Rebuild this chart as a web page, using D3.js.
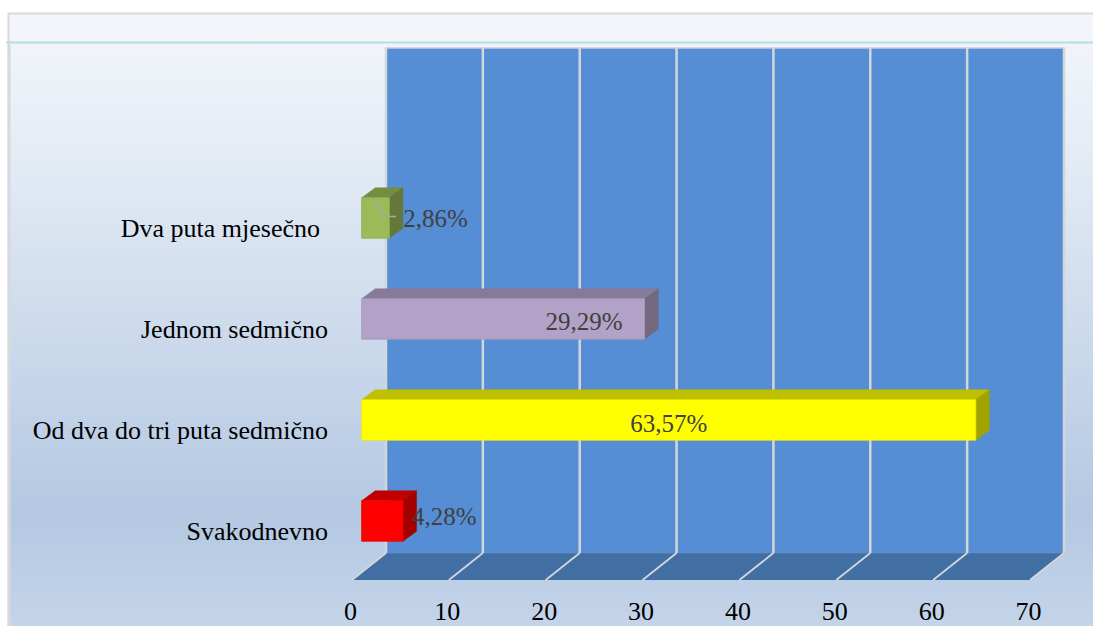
<!DOCTYPE html>
<html lang="hr">
<head>
<meta charset="utf-8">
<title>Učestalost</title>
<script src="https://d3js.org/d3.v7.min.js"></script>
<style>
  html, body { margin: 0; padding: 0; background: #fff; }
  svg { display: block; }
  svg text { font-family: "Liberation Serif", "Tinos", "Times New Roman", "DejaVu Serif", serif; font-size: 26px; }
  .cat { fill: #000; }
  .val { fill: #404040; font-size: 25px; }
  .tick { fill: #000; }
</style>
</head>
<body>
<script>
// data, bottom to top as in the chart
var categories = ["Svakodnevno", "Od dva do tri puta sedmično", "Jednom sedmično", "Dva puta mjesečno"];
var values = [4.28, 63.57, 29.29, 2.86];
var barColors = ["#ff0000", "#ffff00", "#b3a2c7", "#9bbb59"];
var tickValues = [0, 10, 20, 30, 40, 50, 60, 70];

var outerWidth = 1093,
  outerHeight = 626;

// the 3d box: back wall, floor front edge, bar plane
var wall = { left: 386, right: 1064, top: 48, bottom: 553 };
var floorFront = { left: 352, right: 1030, y: 580 };
var barDepth = { dx: 13.5, dy: -10 };

var comma = d3.formatLocale({ decimal: ",", thousands: ".", grouping: [3], currency: ["", ""] });
var fmt = comma.format(".2f");

var xBack = d3.scaleLinear().domain([0, 70]).range([wall.left, wall.right]);
var xFront = d3.scaleLinear().domain([0, 70]).range([floorFront.left, floorFront.right]);
var xBar = d3.scaleLinear().domain([0, 70]).range([361.7, 361.7 + 70 * 9.66]);

// front-face bands, bottom category first
var yBand = d3.scaleBand()
  .domain(categories)
  .range([571.5, 167.5])
  .paddingInner(0.6)
  .paddingOuter(0.3);

var svg = d3.select("body").append("svg")
  .attr("width", outerWidth)
  .attr("height", outerHeight);

var defs = svg.append("defs");
var bg = defs.append("linearGradient")
  .attr("id", "bg")
  .attr("x1", 0).attr("y1", 0).attr("x2", 0).attr("y2", 1);
bg.append("stop").attr("offset", "0").attr("stop-color", "#f4f7fb");
bg.append("stop").attr("offset", "0.2").attr("stop-color", "#e6edf6");
bg.append("stop").attr("offset", "0.8").attr("stop-color", "#b4c8e2");
bg.append("stop").attr("offset", "1").attr("stop-color", "#c6d6ea");

// chart background
svg.append("rect")
  .attr("x", 8.5).attr("y", 13.5)
  .attr("width", outerWidth).attr("height", outerHeight)
  .attr("fill", "url(#bg)")
  .attr("stroke", "#dadada")
  .attr("stroke-width", 2);

// header strip
svg.append("rect")
  .attr("x", 10).attr("y", 15)
  .attr("width", outerWidth).attr("height", 27)
  .attr("fill", "#f2f6fa");
svg.append("line")
  .attr("x1", 6).attr("x2", outerWidth)
  .attr("y1", 42.5).attr("y2", 42.5)
  .attr("stroke", "#b6dbe8")
  .attr("stroke-width", 2);
svg.append("line")
  .attr("x1", 9).attr("x2", 9)
  .attr("y1", 44).attr("y2", outerHeight)
  .attr("stroke", "#d6d9de")
  .attr("stroke-width", 3);

// back wall
svg.append("rect")
  .attr("x", wall.left).attr("y", wall.top)
  .attr("width", wall.right - wall.left)
  .attr("height", wall.bottom - wall.top)
  .attr("fill", "#558ed5")
  .attr("stroke", "#c9cdd3")
  .attr("stroke-width", 1.5);

// floor
svg.append("polygon")
  .attr("points", [
    [xBack(0), wall.bottom], [xBack(70), wall.bottom],
    [xFront(70), floorFront.y], [xFront(0), floorFront.y]
  ].join(" "))
  .attr("fill", "#416fa3");
svg.append("line")
  .attr("x1", xBack(0)).attr("x2", xBack(70))
  .attr("y1", wall.bottom).attr("y2", wall.bottom)
  .attr("stroke", "#4b7cb8")
  .attr("stroke-width", 1.5);

// gridlines on wall and floor
var grid = svg.append("g");
grid.selectAll("line.wall")
  .data(tickValues)
  .enter().append("line")
  .attr("class", "wall")
  .attr("x1", function(d) { return xBack(d); })
  .attr("x2", function(d) { return xBack(d); })
  .attr("y1", wall.top)
  .attr("y2", wall.bottom)
  .attr("stroke", "#d3d6da")
  .attr("stroke-width", 2.5);
grid.selectAll("line.floor")
  .data(tickValues)
  .enter().append("line")
  .attr("class", "floor")
  .attr("x1", function(d) { return xBack(d); })
  .attr("x2", function(d) { return xFront(d); })
  .attr("y1", wall.bottom)
  .attr("y2", floorFront.y)
  .attr("stroke", "#d3d6da")
  .attr("stroke-width", 1.8);

// tick labels
svg.selectAll("text.tick")
  .data(tickValues)
  .enter().append("text")
  .attr("class", "tick")
  .attr("x", function(d) { return xFront(d) - 1.5; })
  .attr("y", 620)
  .attr("text-anchor", "middle")
  .text(function(d) { return d; });

// bars
var bars = svg.selectAll("g.bar")
  .data(categories)
  .enter().append("g")
  .attr("class", "bar");

bars.each(function(cat, i) {
  var g = d3.select(this);
  var x0 = xBar(0),
    x1 = xBar(values[i]),
    y0 = yBand(cat),
    h = yBand.bandwidth(),
    dx = barDepth.dx,
    dy = barDepth.dy;
  var base = d3.color(barColors[i]);
  var top = base.darker(0.8),
    side = base.darker(1.25);
  // top face
  g.append("polygon")
    .attr("points", [[x0, y0], [x0 + dx, y0 + dy], [x1 + dx, y0 + dy], [x1, y0]].join(" "))
    .attr("fill", top)
    .attr("stroke", top)
    .attr("stroke-width", 0.5);
  // end face
  g.append("polygon")
    .attr("points", [[x1, y0], [x1 + dx, y0 + dy], [x1 + dx, y0 + h + dy], [x1, y0 + h]].join(" "))
    .attr("fill", side)
    .attr("stroke", side)
    .attr("stroke-width", 0.5);
  // front face
  g.append("rect")
    .attr("x", x0).attr("y", y0)
    .attr("width", x1 - x0).attr("height", h)
    .attr("fill", base)
    .attr("stroke", base.darker(0.2))
    .attr("stroke-width", 0.8);
});

// category labels
svg.selectAll("text.cat")
  .data(categories)
  .enter().append("text")
  .attr("class", "cat")
  .attr("x", function(d, i) { return i === 3 ? 320 : 328; })
  .attr("y", function(d) { return yBand(d) + yBand.bandwidth() / 2 + 18.5; })
  .attr("text-anchor", "end")
  .text(function(d) { return d; });

// value labels, placed by hand the way the chart had them
var labels = svg.append("g");
categories.forEach(function(cat, i) {
  var cy = yBand(cat) + yBand.bandwidth() / 2;
  var txt = fmt(values[i]) + "%";
  var t = labels.append("text").attr("class", "val").text(txt);
  if (i === 0) {
    t.attr("x", xBar(values[i]) + 9).attr("y", cy + 4);
  } else if (i === 1) {
    t.attr("x", (xBar(0) + xBar(values[i])) / 2).attr("y", cy + 12).attr("text-anchor", "middle");
  } else if (i === 2) {
    t.attr("x", xBar(values[i]) - 22).attr("y", cy + 11).attr("text-anchor", "end");
  } else {
    t.attr("x", xBar(values[i]) + 14).attr("y", cy + 9);
    // leader line
    labels.append("polyline")
      .attr("points", [[376, cy - 17.5], [383.5, cy - 1.5], [396, cy - 1.5]].join(" "))
      .attr("fill", "none")
      .attr("stroke", "#a6a6a6")
      .attr("stroke-width", 1.5);
  }
});
</script>
</body>
</html>
